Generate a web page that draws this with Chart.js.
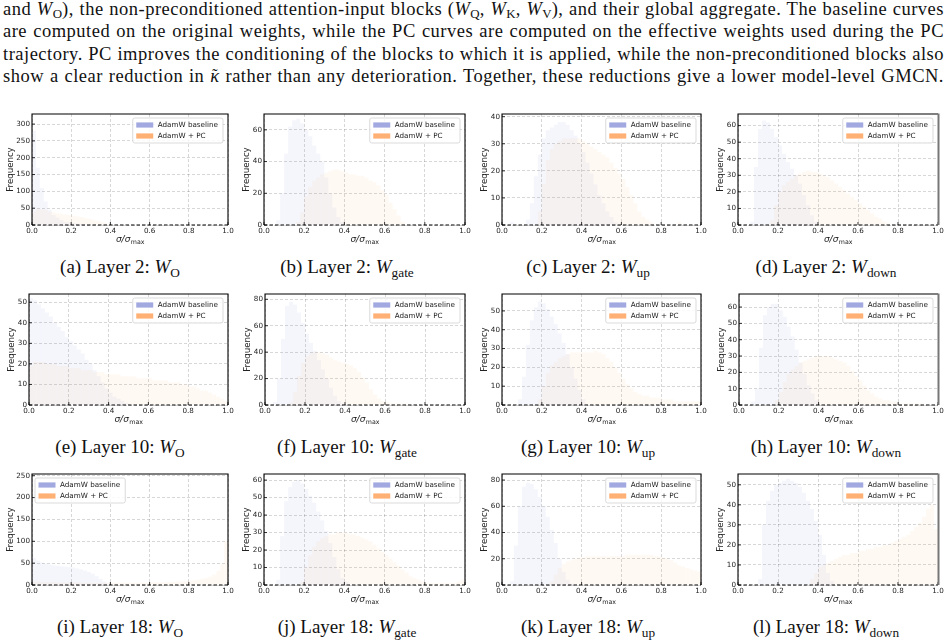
<!DOCTYPE html>
<html>
<head>
<meta charset="utf-8">
<script src="https://cdn.jsdelivr.net/npm/chart.js@4.4.1/dist/chart.umd.min.js"></script>
<style>
  html, body { margin: 0; padding: 0; background: #fff; }
  body { position: relative; width: 948px; height: 643px; overflow: hidden; font-family: "Liberation Serif", serif; color: #111; }
  #para { position: absolute; left: 3px; top: -2.5px; width: 941px; font-size: 18.5px; line-height: 22.6px; letter-spacing: 0.5px; }
  #para div { text-align: justify; text-align-last: justify; }
  sub { font-size: 0.7em; vertical-align: baseline; position: relative; top: 0.28em; line-height: 0; letter-spacing: 0; }
  .kt { position: relative; display: inline-block; }
  .kt span { position: absolute; left: 2px; top: -1px; font-size: 0.85em; font-style: normal; }
  .cap { position: absolute; white-space: nowrap; font-size: 19px; line-height: 20px; transform: translateX(-50%); }
  canvas { position: absolute; }
</style>
</head>
<body>
<div id="para">
  <div>and <i>W</i><sub>O</sub>), the non-preconditioned attention-input blocks (<i>W</i><sub>Q</sub>, <i>W</i><sub>K</sub>, <i>W</i><sub>V</sub>), and their global aggregate. The baseline curves</div>
  <div>are computed on the original weights, while the PC curves are computed on the effective weights used during the PC</div>
  <div>trajectory. PC improves the conditioning of the blocks to which it is applied, while the non-preconditioned blocks also</div>
  <div>show a clear reduction in <span class="kt"><i>κ</i><span>˜</span></span> rather than any deterioration. Together, these reductions give a lower model-level GMCN.</div>
</div>
<script>
// histogram bin centres (bin width 0.02)
const BIN_CENTERS = [
  0.01, 0.03, 0.05, 0.07, 0.09, 0.11, 0.13, 0.15, 0.17, 0.19,
  0.21, 0.23, 0.25, 0.27, 0.29, 0.31, 0.33, 0.35, 0.37, 0.39,
  0.41, 0.43, 0.45, 0.47, 0.49, 0.51, 0.53, 0.55, 0.57, 0.59,
  0.61, 0.63, 0.65, 0.67, 0.69, 0.71, 0.73, 0.75, 0.77, 0.79,
  0.81, 0.83, 0.85, 0.87, 0.89, 0.91, 0.93, 0.95, 0.97, 0.99
];
const X_TICK_LABELS = ['0.0', '0.2', '0.4', '0.6', '0.8', '1.0'];
const SERIES_NAMES = ['AdamW baseline', 'AdamW + PC'];

// Layer 2
const L2_WO_BASE = [
  280, 170, 110, 70, 45, 30, 22, 15, 10, 8,
  6, 4, 3, 2, 2, 1, 1, 0, 0, 0,
  0, 0, 0, 0, 0, 0, 0, 0, 0, 0,
  0, 0, 0, 0, 0, 0, 0, 0, 0, 0,
  0, 0, 0, 0, 0, 0, 0, 0, 0, 0
];
const L2_WO_PC = [
  40, 48, 46, 44, 40, 38, 35, 33, 31, 30,
  28, 26, 24, 21, 19, 16, 13, 10, 7, 4,
  2, 1, 0, 0, 0, 0, 0, 0, 0, 0,
  0, 0, 0, 0, 0, 0, 0, 0, 0, 0,
  0, 0, 0, 0, 0, 0, 0, 0, 0, 0
];
const L2_WGATE_BASE = [
  0, 0, 0, 3, 20, 45, 62, 66, 67, 64,
  60, 56, 50, 45, 40, 30, 20, 11, 5, 2,
  0, 0, 0, 0, 0, 0, 0, 0, 0, 0,
  0, 0, 0, 0, 0, 0, 0, 0, 0, 0,
  0, 0, 0, 0, 0, 0, 0, 0, 0, 0
];
const L2_WGATE_PC = [
  0, 0, 0, 0, 0, 0, 0, 0, 2, 8,
  18, 24, 28, 30, 32, 33, 34, 35, 35, 34,
  33, 32, 32, 31, 31, 30, 28, 27, 25, 22,
  19, 14, 10, 6, 2, 0, 0, 0, 0, 0,
  0, 0, 0, 0, 0, 0, 0, 0, 0, 0
];
const L2_WUP_BASE = [
  0, 0, 1, 0, 0, 0, 2, 8, 18, 26,
  32, 35, 36, 37, 38, 38, 37, 35, 33, 30,
  27, 23, 19, 15, 11, 8, 5, 3, 1, 0,
  0, 0, 0, 0, 0, 0, 0, 0, 0, 0,
  0, 0, 0, 0, 0, 0, 0, 0, 0, 0
];
const L2_WUP_PC = [
  0, 0, 0, 0, 0, 0, 0, 0, 0, 5,
  15, 24, 28, 30, 31, 32, 32, 32, 32, 32,
  31, 30, 29, 28, 27, 26, 25, 23, 21, 19,
  17, 14, 11, 8, 5, 3, 2, 1, 0, 0,
  0, 0, 0, 0, 1, 0, 0, 0, 0, 0
];
const L2_WDOWN_BASE = [
  0, 0, 0, 2, 35, 58, 63, 62, 58, 53,
  48, 43, 38, 34, 30, 25, 18, 12, 6, 2,
  0, 0, 0, 0, 0, 0, 0, 0, 0, 0,
  0, 0, 0, 0, 0, 0, 0, 0, 0, 0,
  0, 0, 0, 0, 0, 0, 0, 0, 0, 0
];
const L2_WDOWN_PC = [
  0, 0, 0, 0, 0, 0, 0, 0, 3, 12,
  20, 24, 26, 28, 30, 31, 32, 33, 32, 32,
  31, 30, 29, 27, 25, 23, 21, 19, 17, 15,
  13, 11, 9, 7, 5, 4, 2, 1, 0, 0,
  0, 0, 0, 0, 0, 0, 0, 0, 0, 0
];

// Layer 10
const L10_WO_BASE = [
  52, 51, 49, 47, 45, 43, 40, 38, 36, 33,
  31, 29, 27, 25, 22, 20, 17, 14, 11, 8,
  6, 4, 3, 2, 1, 0, 0, 0, 0, 0,
  0, 0, 0, 0, 0, 0, 0, 0, 0, 0,
  0, 0, 0, 0, 0, 0, 0, 0, 0, 0
];
const L10_WO_PC = [
  19, 21, 21, 21, 20, 20, 20, 19, 19, 19,
  18, 18, 18, 17, 17, 17, 16, 16, 16, 15,
  15, 15, 15, 14, 14, 14, 14, 13, 13, 13,
  13, 12, 12, 12, 12, 11, 11, 11, 10, 10,
  9, 9, 8, 7, 7, 6, 5, 4, 3, 2
];
const L10_WGATE_BASE = [
  0, 0, 2, 20, 50, 75, 78, 76, 70, 62,
  54, 47, 41, 34, 27, 20, 13, 7, 3, 1,
  0, 0, 0, 0, 0, 0, 0, 0, 0, 0,
  0, 0, 0, 0, 0, 0, 0, 0, 0, 0,
  0, 0, 0, 0, 0, 0, 0, 0, 0, 0
];
const L10_WGATE_PC = [
  0, 0, 0, 0, 0, 0, 2, 10, 22, 32,
  37, 39, 40, 40, 39, 38, 36, 34, 33, 32,
  31, 30, 28, 25, 21, 17, 12, 8, 5, 3,
  2, 1, 1, 1, 1, 1, 0, 0, 0, 0,
  0, 0, 0, 0, 0, 0, 0, 0, 0, 0
];
const L10_WUP_BASE = [
  0, 0, 0, 0, 3, 15, 32, 45, 52, 55,
  54, 51, 47, 43, 38, 33, 27, 20, 14, 8,
  3, 0, 0, 0, 0, 0, 0, 0, 0, 0,
  0, 0, 0, 0, 0, 0, 0, 0, 0, 0,
  0, 0, 0, 0, 0, 0, 0, 0, 0, 0
];
const L10_WUP_PC = [
  0, 0, 0, 0, 0, 0, 0, 0, 0, 3,
  10, 17, 21, 23, 25, 26, 27, 28, 28, 28,
  28, 28, 28, 29, 28, 27, 25, 23, 20, 17,
  14, 11, 9, 7, 6, 5, 5, 4, 4, 4,
  3, 3, 3, 2, 2, 2, 2, 2, 2, 2
];
const L10_WDOWN_BASE = [
  0, 0, 0, 2, 10, 35, 55, 60, 62, 62,
  58, 54, 48, 42, 34, 26, 19, 12, 7, 3,
  0, 0, 0, 0, 0, 0, 0, 0, 0, 0,
  0, 0, 0, 0, 0, 0, 0, 0, 0, 0,
  0, 0, 0, 0, 0, 0, 0, 0, 0, 0
];
const L10_WDOWN_PC = [
  0, 0, 0, 0, 0, 0, 0, 0, 0, 3,
  8, 14, 19, 22, 24, 26, 27, 28, 29, 30,
  30, 30, 30, 29, 28, 27, 26, 24, 21, 18,
  15, 12, 9, 7, 5, 4, 3, 3, 2, 2,
  1, 1, 1, 1, 1, 1, 0, 0, 0, 0
];

// Layer 18
const L18_WO_BASE = [
  62, 56, 52, 49, 47, 45, 44, 43, 42, 41,
  40, 38, 36, 33, 30, 26, 20, 14, 8, 3,
  1, 0, 0, 0, 0, 0, 0, 0, 0, 0,
  0, 0, 0, 0, 0, 0, 0, 0, 0, 0,
  0, 0, 0, 0, 0, 0, 0, 0, 0, 0
];
const L18_WO_PC = [
  8, 8, 7, 7, 7, 7, 6, 6, 6, 6,
  6, 6, 6, 5, 5, 5, 5, 5, 5, 5,
  5, 5, 5, 5, 5, 5, 5, 5, 5, 5,
  6, 6, 6, 6, 7, 7, 7, 8, 8, 9,
  10, 11, 12, 14, 16, 19, 24, 32, 48, 100
];
const L18_WGATE_BASE = [
  0, 0, 0, 3, 28, 48, 56, 59, 60, 58,
  55, 51, 47, 42, 37, 31, 24, 16, 9, 4,
  2, 0, 0, 0, 0, 0, 0, 0, 0, 0,
  0, 0, 0, 0, 0, 0, 0, 0, 0, 0,
  0, 0, 0, 0, 0, 0, 0, 0, 0, 0
];
const L18_WGATE_PC = [
  0, 0, 0, 0, 0, 0, 0, 0, 0, 2,
  10, 17, 22, 25, 27, 28, 29, 29, 30, 30,
  30, 29, 29, 28, 27, 26, 25, 23, 21, 19,
  17, 15, 13, 11, 9, 7, 5, 4, 3, 2,
  1, 1, 1, 1, 1, 1, 1, 1, 2, 3
];
const L18_WUP_BASE = [
  0, 0, 3, 30, 60, 75, 78, 77, 73, 67,
  60, 52, 42, 32, 20, 10, 4, 1, 0, 0,
  0, 0, 0, 0, 0, 0, 0, 0, 0, 0,
  0, 0, 0, 0, 0, 0, 0, 0, 0, 0,
  0, 0, 0, 0, 0, 0, 0, 0, 0, 0
];
const L18_WUP_PC = [
  0, 0, 0, 0, 0, 0, 0, 0, 0, 0,
  0, 0, 3, 8, 13, 16, 18, 19, 20, 21,
  21, 22, 22, 22, 22, 22, 22, 22, 22, 22,
  22, 23, 23, 23, 23, 23, 23, 23, 22, 22,
  21, 20, 19, 17, 15, 14, 13, 12, 11, 10
];
const L18_WDOWN_BASE = [
  0, 0, 0, 0, 0, 3, 30, 42, 47, 50,
  51, 52, 53, 52, 51, 49, 46, 42, 38, 32,
  25, 15, 6, 2, 0, 0, 0, 0, 0, 0,
  0, 0, 0, 0, 0, 0, 0, 0, 0, 0,
  0, 0, 0, 0, 0, 0, 0, 0, 0, 0
];
const L18_WDOWN_PC = [
  0, 0, 0, 0, 0, 0, 0, 0, 0, 0,
  0, 0, 0, 0, 0, 0, 0, 0, 3, 6,
  9, 10, 11, 12, 13, 14, 15, 15, 16, 16,
  17, 17, 18, 18, 19, 19, 20, 20, 21, 22,
  23, 24, 25, 27, 29, 31, 34, 38, 40, 28
];

const PANEL_LETTERS = ['a', 'b', 'c', 'd', 'e', 'f', 'g', 'h', 'i', 'j', 'k', 'l'];
const PANEL_LAYERS = [2, 2, 2, 2, 10, 10, 10, 10, 18, 18, 18, 18];
const PANEL_MATRICES = ['O', 'gate', 'up', 'down', 'O', 'gate', 'up', 'down', 'O', 'gate', 'up', 'down'];
const BASE_SERIES = [L2_WO_BASE, L2_WGATE_BASE, L2_WUP_BASE, L2_WDOWN_BASE,
  L10_WO_BASE, L10_WGATE_BASE, L10_WUP_BASE, L10_WDOWN_BASE,
  L18_WO_BASE, L18_WGATE_BASE, L18_WUP_BASE, L18_WDOWN_BASE];
const PC_SERIES = [L2_WO_PC, L2_WGATE_PC, L2_WUP_PC, L2_WDOWN_PC,
  L10_WO_PC, L10_WGATE_PC, L10_WUP_PC, L10_WDOWN_PC,
  L18_WO_PC, L18_WGATE_PC, L18_WUP_PC, L18_WDOWN_PC];
const Y_MAX = [330, 70, 41, 67, 54, 84, 59, 68, 254, 63.5, 84.6, 55.4];
const Y_STEP = [50, 20, 10, 10, 10, 20, 10, 10, 50, 10, 20, 10];

// layout of the 3x4 grid
const PLOT_LEFT = [32, 264, 502, 738, 29, 265, 502, 739, 32, 264, 502, 738];
const PLOT_RIGHT = [228, 465, 701, 938];
const ROW_TOP = [114, 294, 474];
const PLOT_H = 111;
const Y_AXIS_W = 26, X_AXIS_H = 26, PAD_TOP = 8, PAD_RIGHT = 8;
const CAPTION_X = [120, 347, 588, 826];
const CAPTION_TOP = [257, 437, 617];

const BASE_FILL = 'rgba(120,135,215,0.075)';
const PC_FILL = 'rgba(255,160,90,0.065)';
const LEGEND_COLORS = ['#a2a9e0', '#ffb175'];
const GRID = 'rgba(0,0,0,0.2)';
const TICK_FONT = { family: 'DejaVu Sans', size: 7.2 };

// spines, inward ticks, dashed zero line, legend box and x label
const frame = {
  id: 'frame',
  afterDraw(chart) {
    const { ctx, chartArea: a, scales: { x, y } } = chart;
    const opt = chart.options.plugins.frame;
    ctx.save();

    ctx.strokeStyle = '#000';
    ctx.lineWidth = 0.8;
    ctx.beginPath();
    x.ticks.forEach((t, i) => {
      const px = x.getPixelForTick(i);
      ctx.moveTo(px, a.bottom); ctx.lineTo(px, a.bottom - 3);
    });
    y.ticks.forEach((t, i) => {
      const py = y.getPixelForTick(i);
      ctx.moveTo(a.left, py); ctx.lineTo(a.left + 3, py);
    });
    ctx.stroke();

    const y0 = y.getPixelForValue(0);
    ctx.setLineDash([3.5, 2]);
    ctx.lineWidth = 1.1;
    ctx.beginPath(); ctx.moveTo(a.left, y0); ctx.lineTo(a.right, y0); ctx.stroke();
    ctx.setLineDash([]);

    ctx.beginPath();
    ctx.moveTo(a.left, a.bottom); ctx.lineTo(a.left, a.top); ctx.lineTo(a.right, a.top);
    if (!opt.heavyRight) ctx.lineTo(a.right, a.bottom);
    ctx.stroke();
    if (opt.heavyRight) {
      ctx.strokeStyle = '#777';
      ctx.lineWidth = 2;
      ctx.beginPath(); ctx.moveTo(a.right + 0.5, a.top - 0.5); ctx.lineTo(a.right + 0.5, a.bottom); ctx.stroke();
    }

    // legend
    ctx.font = '7.2px "DejaVu Sans"';
    const labels = chart.data.datasets.map(d => d.label);
    const tw = Math.max(...labels.map(l => ctx.measureText(l).width));
    const bw = tw + 30, bh = 25;
    const bx = opt.legendLeft ? a.left + 3 : a.right - 5 - bw;
    const by = a.top + 4;
    const r = 2;
    ctx.beginPath();
    ctx.moveTo(bx + r, by); ctx.lineTo(bx + bw - r, by); ctx.arcTo(bx + bw, by, bx + bw, by + r, r);
    ctx.lineTo(bx + bw, by + bh - r); ctx.arcTo(bx + bw, by + bh, bx + bw - r, by + bh, r);
    ctx.lineTo(bx + r, by + bh); ctx.arcTo(bx, by + bh, bx, by + bh - r, r);
    ctx.lineTo(bx, by + r); ctx.arcTo(bx, by, bx + r, by, r);
    ctx.closePath();
    ctx.fillStyle = 'rgba(255,255,255,0.85)';
    ctx.fill();
    ctx.strokeStyle = '#d2d2d2';
    ctx.lineWidth = 0.8;
    ctx.stroke();
    ctx.textBaseline = 'middle';
    ctx.textAlign = 'left';
    labels.forEach((l, i) => {
      const cy = by + 7 + i * 11;
      ctx.fillStyle = LEGEND_COLORS[i];
      ctx.fillRect(bx + 3.5, cy - 2.6, 17, 5.2);
      ctx.fillStyle = '#222';
      ctx.fillText(l, bx + 25, cy + 0.3);
    });

    // x label: sigma / sigma_max
    const cx = (a.left + a.right) / 2, bl = a.bottom + 16.5;
    ctx.textBaseline = 'alphabetic';
    ctx.font = 'italic 9px "DejaVu Sans"';
    const w1 = ctx.measureText('σ/σ').width;
    ctx.font = '6.3px "DejaVu Sans"';
    const w2 = ctx.measureText('max').width;
    const sx = cx - (w1 + w2) / 2;
    ctx.fillStyle = '#222';
    ctx.font = 'italic 9px "DejaVu Sans"';
    ctx.fillText('σ/σ', sx, bl);
    ctx.font = '6.3px "DejaVu Sans"';
    ctx.fillText('max', sx + w1 + 0.5, bl + 2.2);

    ctx.restore();
  }
};

PANEL_LETTERS.forEach((letter, i) => {
  const row = Math.floor(i / 4), col = i % 4;
  const plotLeft = PLOT_LEFT[i], plotRight = PLOT_RIGHT[col];
  const w = Y_AXIS_W + (plotRight - plotLeft) + PAD_RIGHT;
  const h = PAD_TOP + PLOT_H + X_AXIS_H;
  const canvas = document.createElement('canvas');
  canvas.width = w; canvas.height = h;
  canvas.style.left = (plotLeft - Y_AXIS_W) + 'px';
  canvas.style.top = (ROW_TOP[row] - PAD_TOP) + 'px';
  canvas.style.width = w + 'px';
  canvas.style.height = h + 'px';
  document.body.appendChild(canvas);

  const titlePad = Y_MAX[i] >= 100 ? 0 : 3.8;

  new Chart(canvas, {
    type: 'bar',
    data: {
      labels: BIN_CENTERS,
      datasets: [
        { label: SERIES_NAMES[0], data: BASE_SERIES[i], backgroundColor: BASE_FILL, borderWidth: 0,
          inflateAmount: 0, grouped: false, barPercentage: 1, categoryPercentage: 1, order: 1 },
        { label: SERIES_NAMES[1], data: PC_SERIES[i], backgroundColor: PC_FILL, borderWidth: 0,
          inflateAmount: 0, grouped: false, barPercentage: 1, categoryPercentage: 1, order: 0 }
      ]
    },
    options: {
      responsive: false,
      animation: false,
      devicePixelRatio: 1,
      events: [],
      layout: { padding: { top: PAD_TOP, right: PAD_RIGHT, left: 0, bottom: 0 } },
      plugins: {
        legend: { display: false },
        tooltip: { enabled: false },
        frame: { legendLeft: i === 8, heavyRight: col === 3 }
      },
      scales: {
        x: {
          type: 'linear', min: 0, max: 1, offset: false,
          grid: { color: GRID, lineWidth: 0.8, drawTicks: false, offset: false },
          border: { display: false, dash: [3, 2] },
          ticks: { stepSize: 0.2, padding: 2, maxRotation: 0, autoSkip: false, font: TICK_FONT, color: '#222',
                   callback: v => X_TICK_LABELS[Math.round(v * 5)] },
          afterFit: s => { s.height = X_AXIS_H; }
        },
        y: {
          min: 0, max: Y_MAX[i],
          grid: { color: GRID, lineWidth: 0.8, drawTicks: false },
          border: { display: false, dash: [3, 2] },
          ticks: { stepSize: Y_STEP[i], includeBounds: false, padding: 2, font: TICK_FONT, color: '#222',
                   callback: v => String(v) },
          title: { display: true, text: 'Frequency', color: '#222',
                   font: { family: 'DejaVu Sans', size: 8.6 }, padding: { top: titlePad, bottom: 0 } },
          afterFit: s => { s.width = Y_AXIS_W; }
        }
      }
    },
    plugins: [frame]
  });

  const cap = document.createElement('div');
  cap.className = 'cap';
  cap.style.left = CAPTION_X[col] + 'px';
  cap.style.top = CAPTION_TOP[row] + 'px';
  cap.innerHTML = `(${letter}) Layer ${PANEL_LAYERS[i]}: <i>W</i><sub>${PANEL_MATRICES[i]}</sub>`;
  document.body.appendChild(cap);
});
</script>
</body>
</html>
